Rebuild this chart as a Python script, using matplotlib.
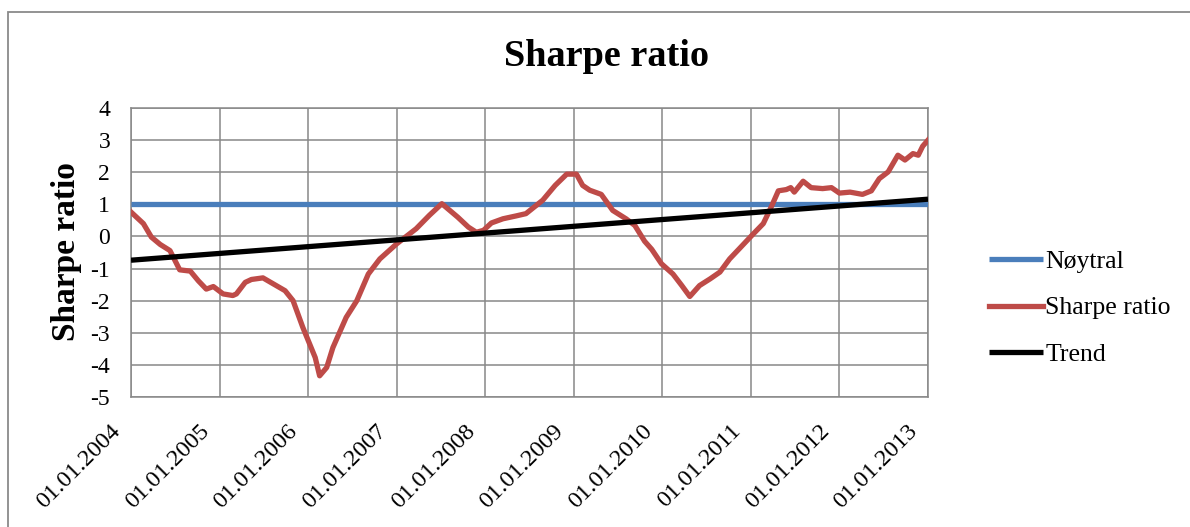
"""
Sharpe ratio trajectory with neutral level and linear trend.

Renders the rolling Sharpe ratio 2004-2013 against a flat neutral line
(Sharpe = 1) and a linear trend, styled like the original spreadsheet chart.
"""

import matplotlib

matplotlib.use('Agg')

import matplotlib.pyplot as plt
from matplotlib.patches import Rectangle
from matplotlib.transforms import ScaledTranslation

# ============================================================================
# Data (x in fractional years)
# ============================================================================

sharpe_t = [
    2004.00, 2004.14, 2004.23, 2004.33, 2004.44, 2004.55, 2004.67, 2004.76,
    2004.85, 2004.93, 2005.04, 2005.15, 2005.19, 2005.29, 2005.36, 2005.49,
    2005.64, 2005.74, 2005.83, 2005.94, 2006.08, 2006.13, 2006.21, 2006.28,
    2006.43, 2006.55, 2006.68, 2006.81, 2007.00, 2007.22, 2007.37, 2007.51,
    2007.69, 2007.81, 2007.90, 2007.98, 2008.07, 2008.20, 2008.35, 2008.46,
    2008.65, 2008.79, 2008.92, 2009.03, 2009.10, 2009.18, 2009.31, 2009.44,
    2009.59, 2009.69, 2009.80, 2009.88, 2009.99, 2010.12, 2010.22, 2010.31,
    2010.42, 2010.54, 2010.65, 2010.76, 2010.87, 2011.01, 2011.14, 2011.23,
    2011.31, 2011.40, 2011.45, 2011.49, 2011.59, 2011.68, 2011.81, 2011.91,
    2012.00, 2012.12, 2012.26, 2012.36, 2012.45, 2012.55, 2012.66, 2012.74,
    2012.83, 2012.89, 2012.94, 2013.00,
]
sharpe_v = [
    0.76, 0.40, -0.02, -0.25, -0.44, -1.04, -1.08, -1.38,
    -1.64, -1.56, -1.79, -1.84, -1.79, -1.43, -1.34, -1.29,
    -1.53, -1.69, -2.00, -2.83, -3.77, -4.34, -4.08, -3.46,
    -2.52, -2.00, -1.17, -0.70, -0.23, 0.24, 0.66, 1.02,
    0.60, 0.29, 0.13, 0.19, 0.42, 0.55, 0.64, 0.71,
    1.13, 1.59, 1.94, 1.94, 1.59, 1.44, 1.31, 0.81,
    0.55, 0.34, -0.15, -0.40, -0.85, -1.17, -1.53, -1.87,
    -1.53, -1.32, -1.11, -0.70, -0.38, 0.03, 0.40, 0.92,
    1.42, 1.46, 1.52, 1.38, 1.72, 1.52, 1.49, 1.52,
    1.35, 1.38, 1.31, 1.42, 1.80, 2.01, 2.53, 2.38,
    2.58, 2.53, 2.81, 3.00,
]

neutral_t = [2004.0, 2013.0]
neutral_v = [1.0, 1.0]

trend_t = [2004.0, 2013.0]
trend_v = [-0.74, 1.16]

years = list(range(2004, 2014))
year_labels = [f'01.01.{y}' for y in years]
y_ticks = list(range(-5, 5))

BLUE = '#4A7EBB'
RED = '#BE4B48'
GRID = '#888888'

plt.rcParams['font.family'] = ['Liberation Serif', 'DejaVu Serif']

fig = plt.figure(figsize=(11.9, 5.27), dpi=100)
ax = fig.add_axes([131 / 1190, 1 - 397 / 527, (928 - 131) / 1190, (397 - 108) / 527])

ax.plot(neutral_t, neutral_v, color=BLUE, linewidth=3.8, solid_capstyle='butt',
        label='Nøytral', zorder=3)
ax.plot(sharpe_t, sharpe_v, color=RED, linewidth=3.8, solid_joinstyle='round',
        label='Sharpe ratio', zorder=4)
ax.plot(trend_t, trend_v, color='black', linewidth=3.8, solid_capstyle='butt',
        label='Trend', zorder=5)

ax.set_xlim(years[0], years[-1])
ax.set_ylim(-5, 4)
ax.set_xticks(years)
ax.set_xticklabels(year_labels, rotation=45, ha='right', va='top', fontsize=17.5)
ax.set_yticks(y_ticks)
ax.set_yticklabels([str(v) for v in y_ticks], fontsize=17)
ax.tick_params(axis='both', length=0)
ax.tick_params(axis='y', pad=15)
ax.tick_params(axis='x', pad=17)
# nudge the slanted date labels a little to the left, as in the reference
shift = ScaledTranslation(-0.06, 0, fig.dpi_scale_trans)
for lbl in ax.get_xticklabels():
    lbl.set_transform(lbl.get_transform() + shift)
ax.grid(True, color=GRID, linewidth=1.1)
ax.set_axisbelow(True)
for sp in ax.spines.values():
    sp.set_color(GRID)
    sp.set_linewidth(1.1)

fig.text(606 / 1190, 1 - 57 / 527, 'Sharpe ratio', ha='center', va='center',
         fontsize=27.5, fontweight='bold')
fig.text(66 / 1190, 1 - 252 / 527, 'Sharpe ratio', ha='center', va='center',
         rotation=90, fontsize=24, fontweight='bold')

handles, labels = ax.get_legend_handles_labels()
fig.legend(handles, labels, loc='center left',
           bbox_to_anchor=(976 / 1190, 1 - 308 / 527), frameon=False,
           fontsize=18.5, handlelength=2.1, handletextpad=0.1, labelspacing=0.9,
           borderpad=0)

# outer chart-area border (left and top edges visible in the reference)
fig.patches.append(Rectangle((8 / 1190, -0.1), 1.2, 1 - 12 / 527 + 0.1,
                             transform=fig.transFigure, fill=False,
                             edgecolor='#8A8A8A', linewidth=1.3))

fig.savefig('out.png', dpi=100)
plt.close(fig)
